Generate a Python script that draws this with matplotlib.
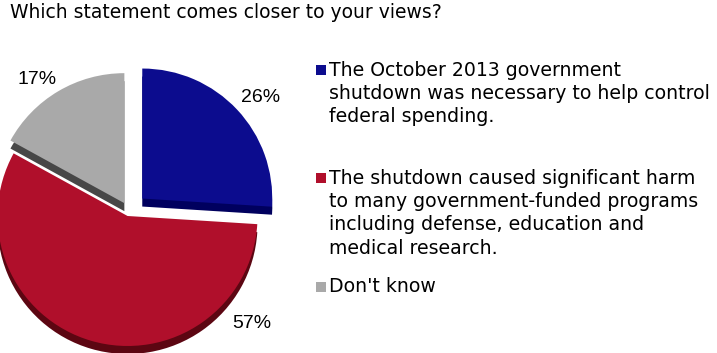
import numpy as np
import matplotlib
matplotlib.use("Agg")
import matplotlib.pyplot as plt
from matplotlib.patches import Rectangle

# data
title = "Which statement comes closer to your views?"
values = [26, 57, 17]
legend_labels = [
    "The October 2013 government\nshutdown was necessary to help control\nfederal spending.",
    "The shutdown caused significant harm\nto many government-funded programs\nincluding defense, education and\nmedical research.",
    "Don't know",
]
face_colors = ["#0c0c8e", "#b00f2b", "#a9a9a9"]
side_colors = ["#00005e", "#5c0612", "#474747"]
explode = [0.14, 0.04, 0.07]

W, H = 717, 353
fig = plt.figure(figsize=(W / 100, H / 100), dpi=100)
ax = fig.add_axes([0, 0, 1, 1])

# pie in pixel units, y measured upward
cx, cy, r = 129, H - 211, 130
depth = 8
# pie takes explode in data units, so scale by radius
expl = [e * r for e in explode]

# darker copy shifted down gives the 3D side
ax.pie(values, colors=side_colors, explode=expl, startangle=90,
       counterclock=False, radius=r, center=(cx, cy - depth),
       wedgeprops=dict(linewidth=0), frame=True)
ax.pie(values, colors=face_colors, explode=expl, startangle=90,
       counterclock=False, radius=r, center=(cx, cy),
       wedgeprops=dict(linewidth=0), frame=True)
ax.set_xlim(0, W)
ax.set_ylim(0, H)
ax.set_aspect("equal")
ax.axis("off")

# percentage labels
label_pos = [(261, 98), (252, 323), (37, 80)]
for v, (lx, ly) in zip(values, label_pos):
    ax.text(lx, H - ly, f"{v}%", ha="center", va="center",
            fontsize=14, family="Liberation Sans", color="black")

# title
fig.text(10 / W, 1 - 12 / H, title, ha="left", va="center",
         fontsize=13.5, family="DejaVu Sans", color="black")

# legend
legend_y = [70, 178, 287]
line_gap = 23.5
for lab, col, ly in zip(legend_labels, face_colors, legend_y):
    ax.add_patch(Rectangle((316, H - ly - 5), 10, 10, color=col, lw=0))
    for i, line in enumerate(lab.split("\n")):
        ax.text(329, H - ly - i * line_gap, line, ha="left", va="center",
                fontsize=13.6, family="DejaVu Sans", color="black")

fig.savefig("out.png", dpi=100)
